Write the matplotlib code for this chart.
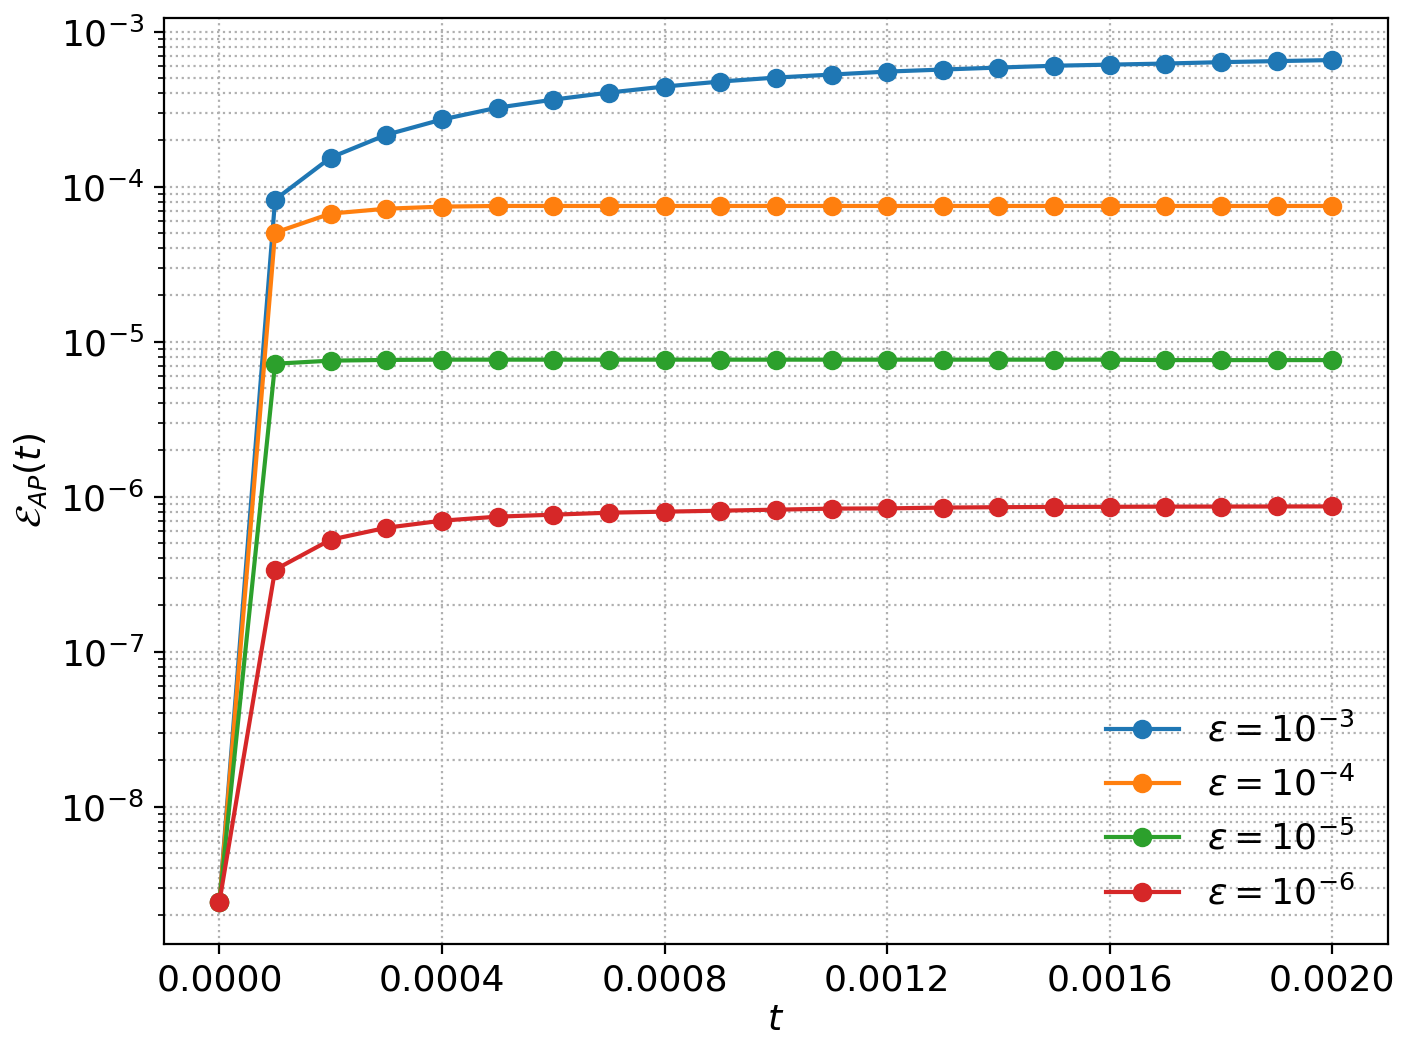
import numpy as np
import matplotlib
matplotlib.use("Agg")
import matplotlib.pyplot as plt

plt.rcParams["font.size"] = 13

t = np.arange(21) * 1e-4

err_1e3 = [2.44e-9, 8.24e-5, 1.54e-4, 2.16e-4, 2.71e-4, 3.23e-4, 3.64e-4, 4.04e-4,
           4.42e-4, 4.76e-4, 5.05e-4, 5.28e-4, 5.52e-4, 5.69e-4, 5.86e-4, 6.02e-4,
           6.12e-4, 6.22e-4, 6.35e-4, 6.45e-4, 6.55e-4]
err_1e4 = [2.44e-9, 5.05e-5, 6.7e-5, 7.2e-5, 7.43e-5, 7.5e-5, 7.5e-5, 7.5e-5,
           7.5e-5, 7.5e-5, 7.5e-5, 7.5e-5, 7.5e-5, 7.5e-5, 7.5e-5, 7.5e-5,
           7.5e-5, 7.5e-5, 7.5e-5, 7.5e-5, 7.5e-5]
err_1e5 = [2.44e-9, 7.2e-6, 7.54e-6, 7.62e-6, 7.65e-6, 7.65e-6, 7.65e-6, 7.65e-6,
           7.65e-6, 7.65e-6, 7.65e-6, 7.65e-6, 7.65e-6, 7.65e-6, 7.65e-6, 7.65e-6,
           7.65e-6, 7.6e-6, 7.6e-6, 7.6e-6, 7.6e-6]
err_1e6 = [2.44e-9, 3.38e-7, 5.28e-7, 6.3e-7, 7.0e-7, 7.43e-7, 7.65e-7, 7.88e-7,
           8.0e-7, 8.12e-7, 8.24e-7, 8.37e-7, 8.4e-7, 8.5e-7, 8.55e-7, 8.58e-7,
           8.6e-7, 8.62e-7, 8.63e-7, 8.64e-7, 8.65e-7]

series = [(err_1e3, -3), (err_1e4, -4), (err_1e5, -5), (err_1e6, -6)]

fig, ax = plt.subplots(figsize=(7.06, 5.29), dpi=200)
fig.subplots_adjust(left=0.116, right=0.983, top=0.983, bottom=0.108)
for vals, p in series:
    ax.plot(t, vals, "-o", label=rf"$\varepsilon = 10^{{{p}}}$")

ax.set_yscale("log")
ax.grid(True, which="both", linestyle=":")
ax.set_xlabel(r"$t$", labelpad=2)
ax.set_ylabel(r"$\mathcal{E}_{AP}(t)$")
ax.set_xticks([0, 0.0004, 0.0008, 0.0012, 0.0016, 0.0020])
ax.xaxis.set_major_formatter(matplotlib.ticker.FormatStrFormatter("%.4f"))
ax.legend(loc="lower right", frameon=False)
fig.savefig("out.png")
